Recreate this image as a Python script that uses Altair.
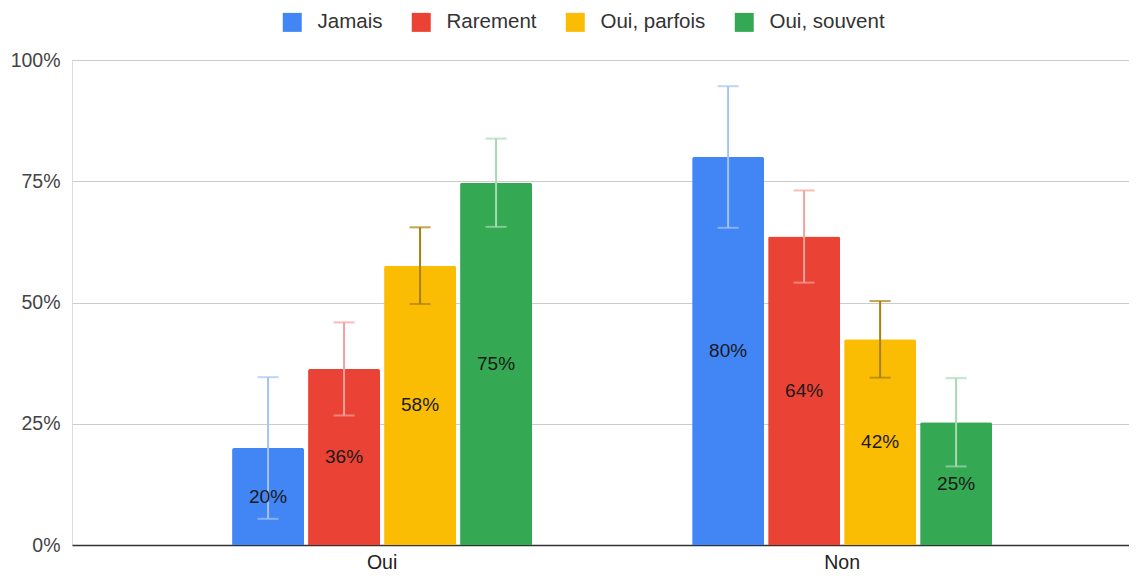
import altair as alt
import pandas as pd

groups = ["Oui", "Non"]
series = ["Jamais", "Rarement", "Oui, parfois", "Oui, souvent"]
oui_values = [0.200, 0.363, 0.576, 0.747]
non_values = [0.800, 0.636, 0.424, 0.253]
oui_errors = [0.146, 0.096, 0.079, 0.091]
non_errors = [0.146, 0.095, 0.079, 0.091]
y_ticks = [0, 0.25, 0.5, 0.75, 1.0]

bar_colors = ["#4285F4", "#EA4335", "#FBBC04", "#34A853"]
err_colors = ["#A4C2F4", "#F4A19A", "#A8800C", "#A5DAB3"]

rows = []
for g, vals, errs in [("Oui", oui_values, oui_errors), ("Non", non_values, non_errors)]:
    for s, v, e in zip(series, vals, errs):
        rows.append({"group": g, "series": s, "value": v, "err": e})
df = pd.DataFrame(rows)

font = "Liberation Sans"

x_enc = alt.X(
    "group:N",
    sort=groups,
    scale=alt.Scale(paddingInner=0.348, paddingOuter=0.3228, align=0.539),
    axis=alt.Axis(title=None, labelAngle=0, ticks=False, labelFontSize=19.5,
                  labelColor="#222222", labelPadding=8, domainColor="#333333",
                  domainWidth=1.5, labelFont=font),
)
xo_enc = alt.XOffset("series:N", sort=series,
                     scale=alt.Scale(paddingInner=0.053, paddingOuter=0))

base = alt.Chart(df)

bars = base.mark_bar(cornerRadiusTopLeft=2, cornerRadiusTopRight=2).encode(
    x=x_enc,
    xOffset=xo_enc,
    y=alt.Y("value:Q", scale=alt.Scale(domain=[0, 1]),
            axis=alt.Axis(values=y_ticks, format=".0%", title=None, domain=False,
                          ticks=False, gridColor="#CCCCCC", labelFontSize=19.5,
                          labelColor="#444444", labelPadding=12, labelFont=font)),
    color=alt.Color("series:N", sort=series,
                    scale=alt.Scale(domain=series, range=bar_colors),
                    legend=alt.Legend(title=None, orient="none", direction="horizontal",
                                      legendX=210, legendY=-48,
                                      symbolType="square", symbolSize=361,
                                      symbolStrokeWidth=0, labelFontSize=20.5,
                                      labelFont=font, labelColor="#333333",
                                      labelOffset=15, columnPadding=28)),
)

labels = base.transform_calculate(mid="datum.value / 2").mark_text(
    font=font, fontSize=19, color="#1A1A1A", baseline="middle"
).encode(
    x=alt.X("group:N", sort=groups),
    xOffset=alt.XOffset("series:N", sort=series),
    y=alt.Y("mid:Q"),
    text=alt.Text("value:Q", format=".0%"),
)

err_base = base.transform_calculate(
    lo="datum.value - datum.err", hi="datum.value + datum.err"
)

rules = err_base.mark_rule(strokeWidth=2).encode(
    x=alt.X("group:N", sort=groups),
    xOffset=alt.XOffset("series:N", sort=series),
    y=alt.Y("lo:Q"),
    y2="hi:Q",
    stroke=alt.Stroke("series:N", scale=alt.Scale(domain=series, range=err_colors), legend=None),
)

caps_lo = err_base.mark_tick(size=21, thickness=2).encode(
    x=alt.X("group:N", sort=groups),
    xOffset=alt.XOffset("series:N", sort=series),
    y=alt.Y("lo:Q"),
    fill=alt.Fill("series:N", scale=alt.Scale(domain=series, range=err_colors), legend=None),
)
caps_hi = err_base.mark_tick(size=21, thickness=2).encode(
    x=alt.X("group:N", sort=groups),
    xOffset=alt.XOffset("series:N", sort=series),
    y=alt.Y("hi:Q"),
    fill=alt.Fill("series:N", scale=alt.Scale(domain=series, range=err_colors), legend=None),
)

chart = alt.layer(bars, rules, caps_lo, caps_hi, labels).properties(
    width=1057,
    height=485,
    autosize=alt.AutoSizeParams(type="none"),
    padding={"left": 64, "top": 52, "right": 0, "bottom": 28},
).configure_view(stroke=None).configure(background="white")

chart.save("out.html", embed_options={"renderer": "svg", "actions": False})
